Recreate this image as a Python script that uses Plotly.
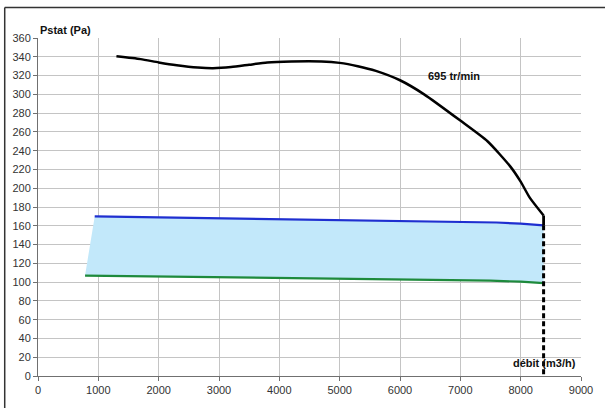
import plotly.graph_objects as go

# Fan curve 695 tr/min
curve_x = [1300, 1700, 2000, 2300, 2650, 2900, 3200, 3500, 3800, 4200, 4700, 5000, 5300, 5600, 6000, 6400, 7000, 7450, 7830, 8000, 8150, 8380]
curve_y = [340.5, 337.5, 334, 331, 328.5, 327.8, 329, 331.5, 334, 335, 335, 333.5, 330, 325, 315, 300, 272, 250, 223, 207, 190, 171]

# Upper (blue) and lower (green) boundaries of the operating zone
blue_x = [940, 2000, 3000, 4000, 5000, 6000, 7000, 7600, 8000, 8380]
blue_y = [170, 169, 168, 167, 166.2, 165.4, 164.5, 163.5, 162.3, 160.5]
green_x = [780, 2000, 3450, 5000, 6700, 7500, 8000, 8380]
green_y = [107, 106, 105.3, 104, 102.5, 101.5, 100.5, 99]

# Max flow line
qmax_x = [8380, 8380]
qmax_y = [160.5, 0]

x_ticks = list(range(0, 9001, 1000))
y_ticks = list(range(0, 361, 20))

fig = go.Figure()

fig.add_trace(go.Scatter(
    x=blue_x + green_x[::-1], y=blue_y + green_y[::-1],
    fill="toself", fillcolor="#c2e8fa", mode="lines",
    line=dict(width=0, color="rgba(0,0,0,0)"), hoverinfo="skip", showlegend=False))

fig.add_trace(go.Scatter(x=blue_x, y=blue_y, mode="lines",
                         line=dict(color="#1f2fd0", width=2.2), showlegend=False))
fig.add_trace(go.Scatter(x=green_x, y=green_y, mode="lines",
                         line=dict(color="#1e8a3c", width=2.2), showlegend=False))

fig.add_trace(go.Scatter(x=curve_x, y=curve_y, mode="lines",
                         line=dict(color="#000000", width=2.5, shape="spline", smoothing=0.6),
                         showlegend=False))
fig.add_trace(go.Scatter(x=[curve_x[-1], qmax_x[0]], y=[curve_y[-1], qmax_y[0]], mode="lines",
                         line=dict(color="#000000", width=2.8), showlegend=False))
fig.add_trace(go.Scatter(x=qmax_x, y=qmax_y, mode="lines",
                         line=dict(color="#000000", width=3, dash="5px,3px"), showlegend=False))

fig.add_annotation(x=0, y=360, xref="x", yref="y", text="<b>Pstat (Pa)</b>",
                   showarrow=False, xanchor="left", yanchor="bottom",
                   font=dict(family="Liberation Sans, Arial", size=11, color="#111111"))
fig.add_annotation(x=6900, y=320, xref="x", yref="y", text="<b>695 tr/min</b>",
                   showarrow=False, xanchor="center", yanchor="middle",
                   font=dict(family="Liberation Sans, Arial", size=11, color="#111111"))
fig.add_annotation(x=8390, y=14, xref="x", yref="y", text="<b>débit (m3/h)</b>",
                   showarrow=False, xanchor="center", yanchor="middle",
                   font=dict(family="Liberation Sans, Arial", size=11, color="#111111"))

# Outer frame: only the left and top edges are inside the image
fig.add_shape(type="line", xref="paper", yref="paper",
              x0=-0.0613, y0=-0.3, x1=-0.0613, y1=1.0904,
              line=dict(color="#333333", width=1.5), layer="above")
fig.add_shape(type="line", xref="paper", yref="paper",
              x0=-0.0613, y0=1.0904, x1=1.3, y1=1.0904,
              line=dict(color="#333333", width=1.5), layer="above")

fig.update_xaxes(range=[0, 9000], tickvals=x_ticks, ticktext=[str(v) for v in x_ticks],
                 showgrid=True, gridcolor="#c4c4c4", gridwidth=1,
                 showline=True, linecolor="#707070", linewidth=1,
                 ticks="outside", ticklen=4, tickcolor="#707070",
                 tickfont=dict(family="Liberation Sans, Arial", size=11, color="#333333"),
                 zeroline=False, mirror=False)
fig.update_yaxes(range=[0, 360], tickvals=y_ticks, ticktext=[str(v) for v in y_ticks],
                 showgrid=True, gridcolor="#c4c4c4", gridwidth=1,
                 showline=True, linecolor="#707070", linewidth=1,
                 ticks="outside", ticklen=4, tickcolor="#707070",
                 tickfont=dict(family="Liberation Sans, Arial", size=11, color="#333333"),
                 zeroline=False)

fig.update_layout(width=605, height=408,
                  margin=dict(l=37, r=13, t=38, b=27),
                  plot_bgcolor="white", paper_bgcolor="white",
                  showlegend=False)

fig.write_html("out.html")
